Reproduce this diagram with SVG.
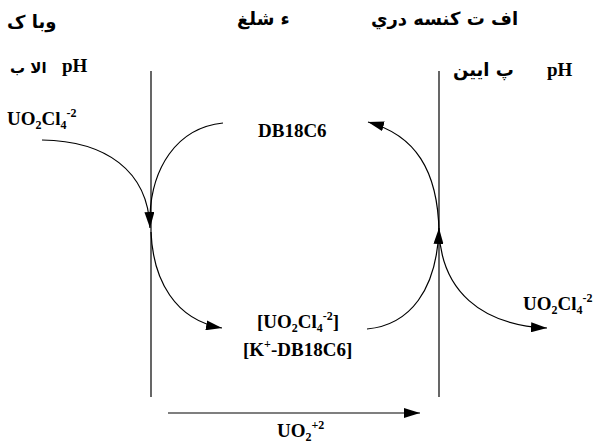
<svg xmlns="http://www.w3.org/2000/svg" width="598" height="446" viewBox="0 0 598 446">
<style>
.t{font-family:"Liberation Serif","Times New Roman",serif;font-weight:bold;font-size:19px;fill:#000}
.s{font-size:12px}
.fa{font-family:"DejaVu Sans","Noto Sans",sans-serif;font-weight:bold;font-size:18px;fill:#000}
.fs{font-size:15px}
.ln{stroke:#000;stroke-width:1.2;fill:none}
.ar{stroke:#000;stroke-width:1.2;fill:none;marker-end:url(#ah)}
</style>
<defs>
<marker id="ah" viewBox="0 0 16 10" refX="16" refY="5" markerWidth="16" markerHeight="10" markerUnits="userSpaceOnUse" orient="auto">
<path d="M0,0 L16,5 L0,10 z" fill="#000"/>
</marker>
</defs>
<g id="labels-top">
<text id="aq" class="fa" x="7" y="28">وبا ک</text>
<text id="mem" class="fa" x="237" y="25">ء شلغ</text>
<text id="rec" class="fa" x="371" y="25">اف ت کنسه دري</text>
<text id="phhi-t" class="t" x="62" y="72">pH</text>
<text id="phhi-f" class="fa fs" x="10" y="73">الا ب</text>
<text id="phlo-t" class="t" x="547" y="76">pH</text>
<text id="phlo-f" class="fa" x="453" y="76">پ ايين</text>
</g>
<g id="membranes">
<line class="ln" x1="151" y1="71" x2="151" y2="397"/>
<line class="ln" x1="439" y1="71" x2="439" y2="397"/>
</g>
<g id="n-in"><text class="t" x="7" y="125">UO<tspan class="s" dy="4">2</tspan><tspan dy="-4">Cl</tspan><tspan class="s" dy="4">4</tspan><tspan class="s" dy="-12">-2</tspan></text></g>
<g id="n-db"><text class="t" x="258" y="137">DB18C6</text></g>
<g id="n-cx">
<text class="t" x="257" y="328">[UO<tspan class="s" dy="4">2</tspan><tspan dy="-4">Cl</tspan><tspan class="s" dy="4">4</tspan><tspan class="s" dy="-12">-2</tspan><tspan dy="8">]</tspan></text>
<text class="t" x="243" y="356">[K<tspan class="s" dy="-8">+</tspan><tspan dy="8">-DB18C6]</tspan></text>
</g>
<g id="n-out"><text class="t" x="523" y="310">UO<tspan class="s" dy="4">2</tspan><tspan dy="-4">Cl</tspan><tspan class="s" dy="4">4</tspan><tspan class="s" dy="-12">-2</tspan></text></g>
<g id="n-uo2"><text class="t" x="277" y="437">UO<tspan class="s" dy="4">2</tspan><tspan class="s" dy="-12">+2</tspan></text></g>
<g id="connectors">
<path class="ar" d="M42,140 C105,141 148,170 150,228"/>
<path class="ln" d="M223,123 C175,128 152,170 150,215"/>
<path class="ar" d="M151,232 C153,280 175,320 222,328"/>
<path class="ar" d="M367,329 C410,325 437,290 439,228"/>
<path class="ar" d="M439,232 C438,170 415,135 368,122"/>
<path class="ar" d="M439,232 C442,290 480,325 547,328"/>
<path class="ar" d="M168,413 L420,413"/>
</g>
</svg>
